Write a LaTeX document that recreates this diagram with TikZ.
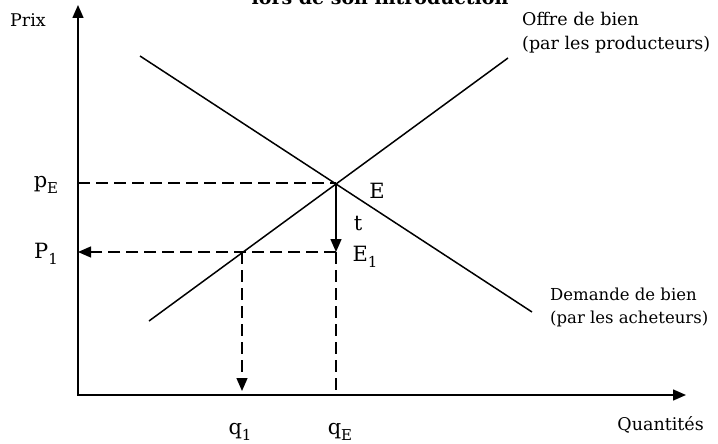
\documentclass[tikz,border=0pt]{standalone}
\usepackage{fontspec}
\setmainfont{DejaVu Serif}
\usetikzlibrary{arrows.meta}
\newcommand{\lowsub}[1]{\raisebox{-0.5ex}{\fontsize{15}{16}\selectfont #1}}
\begin{document}
\begin{tikzpicture}[x=1pt,y=-1pt,
  axisline/.style={line width=1.5pt},
  curve/.style={line width=1.5pt},
  dsh/.style={line width=1.3pt, dash pattern=on 12pt off 6pt},
  tipend/.style={-{Triangle[length=13pt,width=11pt]}},
  lbl/.style={font=\fontsize{17.5}{20}\selectfont, inner sep=0pt},
  mlbl/.style={font=\fontsize{21}{24}\selectfont, inner sep=0pt}]
\useasboundingbox (0,0) rectangle (718,444);
% coordinates
\coordinate (O) at (78,395);
\coordinate (Ytop) at (78,5);
\coordinate (Xend) at (686,395);
\coordinate (E) at (336,183);
\coordinate (E1) at (336,252);
\coordinate (A) at (242,252);
\coordinate (P1a) at (78,252);
\coordinate (pEa) at (78,183);
\coordinate (q1a) at (242,391);
\coordinate (qEa) at (336,395);
\coordinate (S1) at (149,321);
\coordinate (S2) at (508,58);
\coordinate (D1) at (140,56);
\coordinate (D2) at (532,312);
% title (cut off at the top edge, as in the reference)
\node[font=\bfseries\fontsize{19}{22}\selectfont, inner sep=0pt] (title) at (380,-3) {lors de son introduction};
% axes
\draw[axisline, {Triangle[length=13pt,width=11pt]}-{Triangle[length=13pt,width=11pt]}] (Ytop) -- (O) -- (Xend);
% curves
\draw[curve] (S1) -- (S2);
\draw[curve] (D1) -- (D2);
% dashed guides
\draw[dsh] (pEa) -- (E);
\draw[dsh, tipend] (E1) -- (P1a);
\draw[dsh, tipend] (A) -- (q1a);
\draw[dsh] (E1) -- (qEa);
% tax arrow
\draw[line width=1.5pt, tipend] (E) -- (E1);
% labels
\node[lbl, anchor=west] (prix) at (10,20) {Prix};
\node[lbl, anchor=west] (offre1) at (522,19) {Offre de bien};
\node[lbl, anchor=west] (offre2) at (522,45) {(par les producteurs)};
\node[lbl, anchor=west, font=\fontsize{16.5}{19}\selectfont] (dem1) at (550,294) {Demande de bien};
\node[lbl, anchor=west, font=\fontsize{16.5}{19}\selectfont] (dem2) at (550,319) {(par les acheteurs)};
\node[lbl, anchor=east] (quant) at (704,425) {Quantités};
\node[mlbl] (pE) at (46,185) {p\lowsub{E}};
\node[mlbl] (P1) at (46,254) {P\lowsub{1}};
\node[mlbl] (Elab) at (377,191) {E};
\node[mlbl] (tlab) at (358,224) {t};
\node[mlbl] (E1lab) at (365,257) {E\lowsub{1}};
\node[mlbl] (q1) at (240,432) {q\lowsub{1}};
\node[mlbl] (qE) at (340,432) {q\lowsub{E}};
\end{tikzpicture}
\end{document}
